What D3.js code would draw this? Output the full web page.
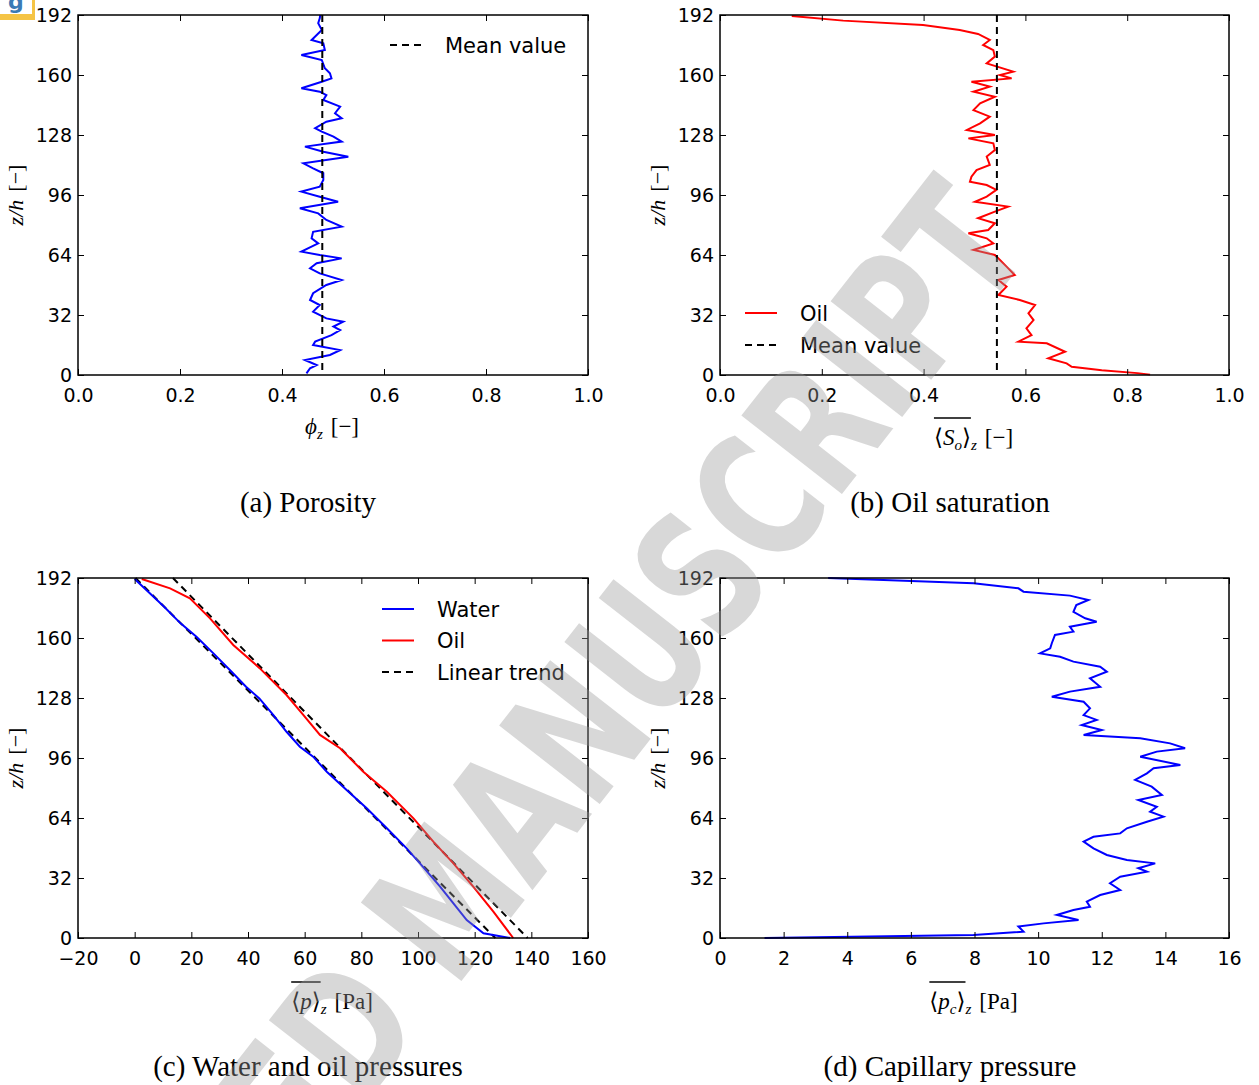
<!DOCTYPE html>
<html>
<head>
<meta charset="utf-8">
<script src="https://cdn.jsdelivr.net/npm/d3@7"></script>
<style>
  body { margin: 0; background: #fff; }
  svg { display: block; }
</style>
</head>
<body>
<div id="chart"></div>
<script>
// ---- data ----
const zTicks = [0, 32, 64, 96, 128, 160, 192];

// (a) porosity profile
const porosityZ = [192, 190.2, 187.6, 184.0, 178.7, 176.9, 173.3, 170.7, 168.0, 163.6, 160.9, 158.2, 156.4, 152.9, 151.1, 149.3, 146.7, 143.1, 139.6, 136.9, 135.1, 131.6, 129.8, 127.1, 124.5, 121.8, 119.1, 116.4, 112.9, 110.2, 107.6, 104.0, 100.4, 97.8, 95.1, 92.4, 88.9, 86.2, 82.7, 79.1, 76.4, 72.9, 70.2, 65.8, 64.0, 62.2, 59.6, 56.9, 54.2, 50.7, 48.0, 43.6, 40.0, 37.3, 33.8, 30.2, 28.4, 25.8, 24.0, 21.3, 17.8, 16.0, 13.3, 10.7, 8.0, 5.3, 3.6, 0.9];
const porosity = [0.475, 0.474, 0.471, 0.478, 0.458, 0.481, 0.484, 0.438, 0.478, 0.484, 0.494, 0.497, 0.478, 0.438, 0.474, 0.487, 0.481, 0.514, 0.504, 0.517, 0.487, 0.465, 0.478, 0.501, 0.517, 0.445, 0.481, 0.530, 0.442, 0.461, 0.481, 0.481, 0.474, 0.438, 0.474, 0.510, 0.435, 0.471, 0.487, 0.517, 0.461, 0.458, 0.471, 0.438, 0.474, 0.517, 0.468, 0.455, 0.474, 0.517, 0.487, 0.461, 0.455, 0.474, 0.461, 0.487, 0.520, 0.501, 0.514, 0.497, 0.465, 0.461, 0.514, 0.494, 0.445, 0.468, 0.455, 0.448];
const porosityMean = 0.479;

// (b) oil saturation profile
const satZ = [191.5, 189.0, 186.7, 184.0, 181.9, 178.7, 176.0, 173.3, 169.8, 166.2, 161.8, 160.0, 158.2, 156.4, 153.8, 151.1, 148.4, 144.9, 141.3, 137.8, 134.2, 130.7, 128.0, 126.2, 123.6, 120.0, 116.5, 112.0, 109.3, 105.8, 103.1, 101.3, 98.7, 95.1, 92.4, 89.8, 87.1, 83.6, 80.9, 77.3, 75.6, 72.9, 70.2, 66.7, 64.0, 61.3, 57.8, 53.3, 50.7, 47.1, 42.7, 40.0, 37.3, 32.9, 29.3, 24.9, 21.3, 17.8, 16.9, 12.4, 8.9, 6.2, 4.4, 2.5, 1.0, 0.2];
const satOil = [0.141, 0.242, 0.399, 0.471, 0.507, 0.530, 0.517, 0.537, 0.540, 0.524, 0.576, 0.550, 0.573, 0.494, 0.530, 0.498, 0.540, 0.511, 0.498, 0.530, 0.511, 0.485, 0.540, 0.488, 0.537, 0.540, 0.524, 0.530, 0.504, 0.494, 0.491, 0.524, 0.543, 0.524, 0.501, 0.566, 0.540, 0.507, 0.540, 0.527, 0.488, 0.524, 0.537, 0.498, 0.540, 0.550, 0.563, 0.579, 0.547, 0.563, 0.547, 0.589, 0.619, 0.606, 0.616, 0.602, 0.612, 0.586, 0.642, 0.678, 0.645, 0.681, 0.691, 0.750, 0.820, 0.845];
const satMean = 0.544;

// (c) water and oil pressures
const waterZ = [191.5, 176.7, 167.8, 160.7, 151.8, 142.0, 134.0, 127.8, 119.0, 110.0, 102.0, 96.7, 88.7, 78.9, 69.2, 58.5, 47.8, 39.8, 27.4, 18.5, 9.6, 2.5, 0];
const waterP = [0.0, 10.4, 16.2, 21.8, 27.8, 34.2, 39.3, 44.0, 48.9, 53.6, 58.3, 63.0, 67.8, 74.8, 81.9, 89.0, 96.0, 100.7, 107.8, 112.5, 117.2, 123.1, 132.5];
const oilZ = [191.5, 186.5, 181.2, 170.5, 156.3, 143.8, 129.6, 119.0, 108.3, 101.2, 88.7, 78.0, 63.8, 51.4, 39.8, 27.4, 14.1, 0];
const oilP = [2.5, 12.5, 19.5, 26.6, 34.8, 44.2, 53.6, 59.5, 65.4, 72.5, 80.7, 89.0, 98.4, 105.4, 112.5, 119.5, 126.6, 133.6];
const trendZ = [192, 0];
const waterTrend = [0.3, 127.3];
const oilTrend = [13.5, 138.7];

// (d) capillary pressure
const capZ = [192, 189.2, 186.5, 184.7, 182.6, 180.3, 177.6, 174.0, 170.5, 168.7, 166.0, 163.4, 161.6, 157.2, 154.5, 151.8, 150.0, 147.4, 144.7, 142.0, 138.5, 134.0, 131.4, 128.7, 126.0, 122.5, 118.9, 116.3, 113.6, 110.9, 108.3, 106.5, 103.8, 101.2, 99.4, 96.7, 92.3, 90.5, 87.8, 84.3, 80.7, 76.3, 73.6, 70.0, 67.4, 64.7, 62.0, 58.5, 55.8, 54.0, 51.4, 47.8, 44.3, 41.6, 39.8, 37.2, 35.4, 32.7, 29.2, 25.6, 22.9, 19.4, 16.7, 14.9, 12.3, 9.6, 7.8, 6.1, 3.4, 1.6, 0];
const capP = [3.4, 7.97, 9.38, 9.54, 11.0, 11.58, 11.2, 11.11, 11.48, 11.84, 11.0, 11.11, 10.53, 10.43, 10.38, 10.06, 10.69, 11.11, 11.95, 12.16, 11.63, 11.95, 11.0, 10.43, 11.43, 11.63, 11.43, 11.84, 11.37, 12.0, 11.43, 13.21, 14.15, 14.62, 13.73, 13.21, 14.47, 13.63, 13.42, 13.05, 13.57, 13.89, 13.15, 13.73, 13.52, 13.94, 13.42, 12.79, 12.58, 11.74, 11.43, 11.74, 12.16, 12.79, 13.68, 13.15, 13.42, 12.58, 12.26, 12.58, 11.95, 11.53, 11.63, 11.11, 10.59, 11.27, 10.17, 9.38, 9.54, 7.97, 1.4];

// ---- drawing ----
const width = 1259, height = 1085;
const serif = "'Liberation Serif', 'DejaVu Serif', serif";
const sans = "'DejaVu Sans', sans-serif";

const svg = d3.select("#chart").append("svg")
    .attr("width", width)
    .attr("height", height);

function drawPanel(opt) {
    let x = d3.scaleLinear().domain(opt.xDomain).range([opt.left, opt.left + opt.w]);
    let y = d3.scaleLinear().domain([0, 192]).range([opt.top + opt.h, opt.top]);
    let g = svg.append("g");

    let line = d3.line().x(d => x(d[0])).y(d => y(d[1]));
    opt.series.forEach(s => {
        g.append("path")
            .datum(d3.zip(s.v, s.z))
            .attr("d", line)
            .attr("fill", "none")
            .attr("stroke", s.color)
            .attr("stroke-width", 2)
            .attr("stroke-dasharray", s.dash ? "7,5" : null);
    });

    // axes, ticks pointing inwards on all sides
    let bottom = g.append("g").attr("transform", "translate(0," + (opt.top + opt.h) + ")")
        .call(d3.axisBottom(x).tickValues(opt.xTicks).tickFormat(opt.fmt)
            .tickSizeInner(-6).tickSizeOuter(0).tickPadding(14));
    let top = g.append("g").attr("transform", "translate(0," + opt.top + ")")
        .call(d3.axisTop(x).tickValues(opt.xTicks).tickFormat(() => "")
            .tickSizeInner(-6).tickSizeOuter(0));
    let left = g.append("g").attr("transform", "translate(" + opt.left + ",0)")
        .call(d3.axisLeft(y).tickValues(zTicks)
            .tickSizeInner(-6).tickSizeOuter(0).tickPadding(6));
    let right = g.append("g").attr("transform", "translate(" + (opt.left + opt.w) + ",0)")
        .call(d3.axisRight(y).tickValues(zTicks).tickFormat(() => "")
            .tickSizeInner(-6).tickSizeOuter(0));
    [bottom, top, left, right].forEach(a => {
        a.select(".domain").remove();
        a.selectAll("line").attr("stroke", "#000").attr("stroke-width", 1);
        a.selectAll("text").attr("fill", "#000").style("font", "19px " + sans);
    });

    g.append("rect")
        .attr("x", opt.left).attr("y", opt.top)
        .attr("width", opt.w).attr("height", opt.h)
        .attr("fill", "none").attr("stroke", "#000").attr("stroke-width", 1.5);

    // y label  z/h [-]
    let yl = g.append("text")
        .attr("transform", "translate(" + (opt.left - 55) + "," + (opt.top + opt.h / 2) + ") rotate(-90)")
        .attr("text-anchor", "middle")
        .style("font-family", serif).style("font-size", "22px");
    yl.append("tspan").style("font-style", "italic").text("z/h");
    yl.append("tspan").attr("dx", 8).text("[\u2212]");

    // legend
    if (opt.legend) {
        opt.legend.items.forEach((it, i) => {
            let cy = opt.legend.y + i * opt.legend.step;
            g.append("line")
                .attr("x1", opt.legend.x).attr("x2", opt.legend.x + 32)
                .attr("y1", cy).attr("y2", cy)
                .attr("stroke", it.color).attr("stroke-width", 2)
                .attr("stroke-dasharray", it.dash ? "7,5" : null);
            g.append("text")
                .attr("x", opt.legend.x + 55).attr("y", cy + 7.5)
                .style("font", "21px " + sans)
                .text(it.label);
        });
    }

    // x label built from math-like pieces
    let xl = g.append("text")
        .attr("x", opt.left + opt.w / 2 - 1).attr("y", opt.xlabelY)
        .attr("text-anchor", "middle")
        .style("font-family", serif).style("font-size", "23px");
    opt.xlabel.forEach(p => {
        let s = xl.append("tspan").text(p.t);
        if (p.i) s.style("font-style", "italic");
        if (p.small) s.style("font-size", "15px");
        if (p.dy) s.attr("dy", p.dy);
        if (p.dx) s.attr("dx", p.dx);
    });
    if (opt.overN) {
        let n = xl.node();
        let a = n.getExtentOfChar(0), b = n.getExtentOfChar(opt.overN - 1);
        g.append("line")
            .attr("x1", a.x).attr("x2", b.x + b.width)
            .attr("y1", opt.xlabelY - 27).attr("y2", opt.xlabelY - 27)
            .attr("stroke", "#000").attr("stroke-width", 1.5);
    }

    // caption
    g.append("text")
        .attr("x", opt.capX).attr("y", opt.capY)
        .attr("text-anchor", "middle")
        .style("font-family", serif).style("font-size", "29px")
        .text(opt.caption);
}

const f1 = d3.format(".1f");
const f0 = d3.format("d");

drawPanel({
    left: 78, top: 15, w: 510, h: 360,
    xDomain: [0, 1], xTicks: [0, 0.2, 0.4, 0.6, 0.8, 1.0], fmt: f1,
    series: [
        { v: porosity, z: porosityZ, color: "#0000ff" },
        { v: [porosityMean, porosityMean], z: trendZ, color: "#000", dash: true }
    ],
    legend: { x: 390, y: 45, step: 32, items: [{ label: "Mean value", color: "#000", dash: true }] },
    xlabel: [{ t: "\u03d5", i: 1 }, { t: "z", i: 1, small: 1, dy: 5 }, { t: "[\u2212]", dy: -5, dx: 8 }],
    xlabelY: 434,
    caption: "(a) Porosity", capX: 308, capY: 512
});

drawPanel({
    left: 720, top: 15, w: 509, h: 360,
    xDomain: [0, 1], xTicks: [0, 0.2, 0.4, 0.6, 0.8, 1.0], fmt: f1,
    series: [
        { v: satOil, z: satZ, color: "#ff0000" },
        { v: [satMean, satMean], z: trendZ, color: "#000", dash: true }
    ],
    legend: { x: 745, y: 313, step: 32, items: [
        { label: "Oil", color: "#ff0000" },
        { label: "Mean value", color: "#000", dash: true }] },
    xlabel: [{ t: "\u27e8" }, { t: "S", i: 1 }, { t: "o", i: 1, small: 1, dy: 5 }, { t: "\u27e9", dy: -5 },
             { t: "z", i: 1, small: 1, dy: 5 }, { t: "[\u2212]", dy: -5, dx: 8 }],
    overN: 4,
    xlabelY: 445,
    caption: "(b) Oil saturation", capX: 950, capY: 512
});

drawPanel({
    left: 78, top: 578, w: 510, h: 360,
    xDomain: [-20, 160], xTicks: [-20, 0, 20, 40, 60, 80, 100, 120, 140, 160], fmt: f0,
    series: [
        { v: waterTrend, z: trendZ, color: "#000", dash: true },
        { v: oilTrend, z: trendZ, color: "#000", dash: true },
        { v: waterP, z: waterZ, color: "#0000ff" },
        { v: oilP, z: oilZ, color: "#ff0000" }
    ],
    legend: { x: 382, y: 609, step: 31.5, items: [
        { label: "Water", color: "#0000ff" },
        { label: "Oil", color: "#ff0000" },
        { label: "Linear trend", color: "#000", dash: true }] },
    xlabel: [{ t: "\u27e8" }, { t: "p", i: 1 }, { t: "\u27e9" }, { t: "z", i: 1, small: 1, dy: 5 },
             { t: "[Pa]", dy: -5, dx: 8 }],
    overN: 3,
    xlabelY: 1009,
    caption: "(c) Water and oil pressures", capX: 308, capY: 1076
});

drawPanel({
    left: 720, top: 578, w: 509, h: 360,
    xDomain: [0, 16], xTicks: [0, 2, 4, 6, 8, 10, 12, 14, 16], fmt: f0,
    series: [
        { v: capP, z: capZ, color: "#0000ff" }
    ],
    xlabel: [{ t: "\u27e8" }, { t: "p", i: 1 }, { t: "c", i: 1, small: 1, dy: 5 }, { t: "\u27e9", dy: -5 },
             { t: "z", i: 1, small: 1, dy: 5 }, { t: "[Pa]", dy: -5, dx: 8 }],
    overN: 4,
    xlabelY: 1009,
    caption: "(d) Capillary pressure", capX: 950, capY: 1076
});

// journal watermark laid over the figure
svg.append("text")
    .attr("transform", "translate(-30,1610) rotate(-52)")
    .attr("textLength", 1729)
    .attr("lengthAdjust", "spacingAndGlyphs")
    .style("font", "bold 175px " + sans)
    .attr("fill", "#9a9a9a")
    .attr("opacity", 0.38)
    .text("ACCEPTED MANUSCRIPT");

// logo corner top-left
svg.append("rect").attr("x", 0).attr("y", 0).attr("width", 35).attr("height", 20).attr("fill", "#f5c445");
svg.append("rect").attr("x", 0).attr("y", 0).attr("width", 32).attr("height", 14).attr("fill", "#fff");
svg.append("text").attr("x", 8).attr("y", 9).style("font", "bold 22px " + sans).attr("fill", "#3b7bb5").text("g");
</script>
</body>
</html>
